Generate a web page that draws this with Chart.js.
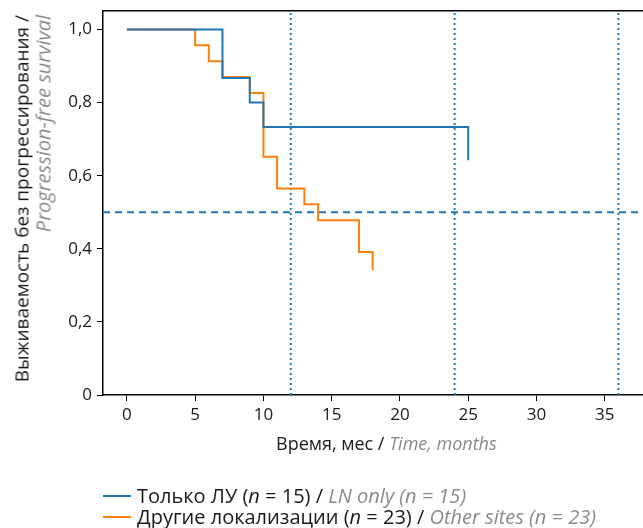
<!DOCTYPE html>
<html>
<head>
<meta charset="utf-8">
<script src="https://cdn.jsdelivr.net/npm/chart.js@4/dist/chart.umd.min.js"></script>
<style>
  html, body { margin: 0; padding: 0; background: #fff; }
  body { width: 643px; height: 528px; position: relative; overflow: hidden; font-family: 'Open Sans', sans-serif; color: #1a1a1a; }
  #wrap { position: absolute; left: 0; top: -4px; width: 643px; height: 532px; }
  .en { color: #8a8a8a; font-style: italic; }
  #ytitle { position: absolute; left: 0; top: 0; width: 380px; transform-origin: 0 0; transform: translate(11.5px, 395px) rotate(-90deg); font-size: 19px; line-height: 21px; text-align: right; white-space: nowrap; }
  #ytitle .en { font-size: 20px; }
  #xtitle { position: absolute; left: 276px; top: 432px; font-size: 18px; line-height: 22px; white-space: nowrap; }
  #legend { position: absolute; left: 103px; top: 485px; font-size: 20px; line-height: 21px; white-space: nowrap; }
  #legend .row { display: flex; align-items: center; height: 21px; }
  #legend .sw { display: inline-block; width: 28px; height: 2px; margin-right: 6px; }
</style>
</head>
<body>
<div id="wrap"><canvas id="chart"></canvas></div>
<div id="ytitle">Выживаемость без прогрессирования /<br><span class="en">Progression-free survival</span></div>
<div id="xtitle">Время, мес / <span class="en">Time, months</span></div>
<div id="legend"></div>
<script>
const BLUE = '#1f77b4';
const ORANGE = '#ff7f0e';

// Kaplan-Meier steps
const lnTimes = [0, 7, 9, 10, 25];
const lnSurv = [1.0, 0.867, 0.8, 0.733, 0.642];
const otherTimes = [0, 5, 6, 7, 9, 10, 11, 13, 14, 17, 18];
const otherSurv = [1.0, 0.957, 0.913, 0.870, 0.826, 0.652, 0.565, 0.522, 0.478, 0.391, 0.342];

const xTicks = [0, 5, 10, 15, 20, 25, 30, 35];
const yTicks = [0, 0.2, 0.4, 0.6, 0.8, 1.0];
const medianLine = 0.5;
const yearMarks = [12, 24, 36];

const X_MIN = -1.75, X_MAX = 37.8, Y_MIN = 0, Y_MAX = 1.05;

const seriesLabels = [
  ['Только ЛУ (<i>n</i> = 15) / ', 'LN only (n = 15)'],
  ['Другие локализации (<i>n</i> = 23) / ', 'Other sites (n = 23)']
];

const toPts = (xs, ys) => xs.map((x, i) => ({ x, y: ys[i] }));

const datasets = [
  { label: 'LN only', data: toPts(lnTimes, lnSurv), borderColor: BLUE, borderWidth: 2, stepped: true, pointRadius: 0, fill: false, order: 1 },
  { label: 'Other sites', data: toPts(otherTimes, otherSurv), borderColor: ORANGE, borderWidth: 2, stepped: true, pointRadius: 0, fill: false, order: 2 },
  { label: 'median', data: [{ x: X_MIN, y: medianLine }, { x: X_MAX, y: medianLine }], borderColor: BLUE, borderWidth: 2, borderDash: [7, 5], pointRadius: 0, order: 3 },
  ...yearMarks.map(m => ({ label: 'm' + m, data: [{ x: m, y: Y_MIN }, { x: m, y: Y_MAX }], borderColor: BLUE, borderWidth: 2, borderDash: [2, 3], pointRadius: 0, order: 3 }))
];

document.getElementById('legend').innerHTML = seriesLabels.map((l, i) => `
  <div class="row"><span class="sw" style="background:${[BLUE, ORANGE][i]}"></span><span>${l[0]}<span class="en">${l[1]}</span></span></div>`).join('');

const tickFont = { family: "'Open Sans', sans-serif", size: 17 };

new Chart(document.getElementById('chart'), {
  type: 'line',
  data: { datasets },
  options: {
    responsive: true,
    maintainAspectRatio: false,
    animation: false,
    layout: { padding: 0 },
    plugins: { legend: { display: false }, tooltip: { enabled: false } },
    scales: {
      x: {
        type: 'linear', position: 'bottom', min: X_MIN, max: X_MAX,
        afterBuildTicks: s => { s.ticks = xTicks.map(v => ({ value: v })); },
        afterFit: s => { s.height = 133; },
        ticks: { color: '#1a1a1a', font: tickFont, padding: 4, maxRotation: 0 },
        grid: { drawOnChartArea: false, drawTicks: true, tickLength: 6, color: '#000' },
        border: { color: '#000', width: 1.5 }
      },
      xTop: {
        type: 'linear', position: 'top', min: X_MIN, max: X_MAX,
        afterFit: s => { s.height = 15; },
        ticks: { display: false },
        grid: { display: false },
        border: { color: '#000', width: 1.5 }
      },
      y: {
        min: Y_MIN, max: Y_MAX,
        afterBuildTicks: s => { s.ticks = yTicks.map(v => ({ value: v })); },
        afterFit: s => { s.width = 103; },
        ticks: { color: '#1a1a1a', font: tickFont, padding: 5, callback: v => v === 0 ? '0' : v.toFixed(1).replace('.', ',') },
        grid: { drawOnChartArea: false, drawTicks: true, tickLength: 6, color: '#000' },
        border: { color: '#000', width: 1.5 }
      }
    }
  }
});
</script>
</body>
</html>
